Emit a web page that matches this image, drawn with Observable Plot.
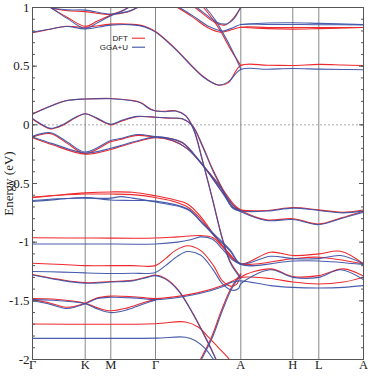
<!DOCTYPE html>
<html><head><meta charset="utf-8">
<script src="https://cdn.jsdelivr.net/npm/d3@7"></script>
<script src="https://cdn.jsdelivr.net/npm/@observablehq/plot@0.6"></script>
<style>
body{margin:0;background:#fff;}
#wrap{position:relative;width:374px;height:380px;}
#legend{position:absolute;left:0;top:0;pointer-events:none;}
svg.bands text{font-family:'Liberation Serif','Times New Roman',serif !important;font-size:13px !important;fill:#222;}
svg.bands g[aria-label="x-axis tick label"] text{font-size:12.5px !important;}
#legend text{font-family:'Liberation Sans',Arial,sans-serif;font-size:8px;fill:#222;}
</style></head><body><div id="wrap"></div>
<script>
// high-symmetry path
const kLabels = ["Γ","K","M","Γ","A","H","L","A"];
const kTicks = [0, 52.7, 78.3, 123, 208.3, 260.3, 286.3, 331];
const yMajor = [-2, -1.5, -1, -0.5, 0, 0.5, 1];
const yMinor = d3.range(-20, 11).map(v => v / 10);
const seriesNames = ["DFT", "GGA+U"];
const seriesColors = ["#ee2a2e", "#3b50a6"];

// DFT bands: [k, E(eV)]
const dftBands = [
  [[12,1.03],[18,1.0],[35,0.972],[52.7,0.965],[78.3,0.94],[95,0.962],[105,1.0],[110,1.03]],
  [[10,1.04],[18,1.0],[35,0.915],[52.7,0.84],[65,0.885],[78.3,0.935],[90,0.975],[100,1.02],[104,1.04]],
  [[0,0.785],[15,0.81],[34,0.84],[52.7,0.832],[78.3,0.858],[100,0.856],[112,0.84],[123,0.795],[141,0.665],[171,0.41],[186,0.338],[196,0.36],[208.3,0.505],[235,0.508],[260.3,0.506],[286.3,0.515],[310,0.51],[331,0.505]],
  [[135,1.05],[145,1.0],[160,0.92],[175,0.83],[188,0.79],[200,0.812],[208.3,0.832],[235,0.83],[260.3,0.83],[286.3,0.83],[331,0.83]],
  [[165,1.05],[171,1.0],[181,0.89],[188,0.8],[198,0.645],[208.3,0.505]],
  [[155,1.05],[170,0.95],[182,0.875],[192,0.85],[200,0.9],[208.3,1.0],[212,1.04]],
  [[208.3,0.832],[235,0.82],[260.3,0.816],[286.3,0.82],[331,0.83]],
  [[0,0.095],[15,0.15],[34,0.207],[52.7,0.22],[78.3,0.225],[98,0.21],[108,0.19],[118,0.135],[123,0.12],[133,0.116],[143,0.12],[153,0.08],[161,-0.03],[170,-0.3],[180,-0.63],[190,-0.97],[198,-1.17],[208.3,-1.3]],
  [[0,0.05],[9,0.0],[18,-0.035],[30,-0.005],[42,0.055],[52.7,0.094],[65,0.05],[78.3,0.0],[90,0.035],[105,0.07],[123,0.065],[138,0.056],[150,0.05],[160,-0.006],[170,-0.176],[180,-0.375],[190,-0.545],[200,-0.7],[208.3,-0.725],[235,-0.73],[260.3,-0.705],[286.3,-0.725],[310,-0.745],[331,-0.725]],
  [[0,-0.105],[18,-0.075],[35,-0.16],[52.7,-0.245],[78.3,-0.145],[88,-0.125],[105,-0.09],[123,-0.105],[133,-0.11],[150,-0.155],[166,-0.3],[176,-0.405],[190,-0.575],[200,-0.68],[208.3,-0.73],[234,-0.81],[260.3,-0.8],[286.3,-0.845],[308,-0.795],[331,-0.735]],
  [[0,-0.11],[20,-0.17],[52.7,-0.25],[78.3,-0.21],[88,-0.185],[108,-0.135],[123,-0.11],[140,-0.135],[155,-0.205],[175,-0.39],[188,-0.525],[201,-0.675],[208.3,-0.725]],
  [[0,-0.622],[25,-0.6],[52.7,-0.58],[78.3,-0.572],[100,-0.575],[123,-0.605],[140,-0.635],[155,-0.675],[168,-0.78],[180,-0.92],[195,-1.08],[208.3,-1.185],[238,-1.086],[260.3,-1.114],[286.3,-1.1],[308,-1.078],[331,-1.185]],
  [[0,-0.615],[25,-0.6],[52.7,-0.59],[78.3,-0.59],[100,-0.595],[123,-0.62],[140,-0.65],[155,-0.7],[168,-0.8],[182,-0.95],[197,-1.1],[208.3,-1.185],[260.3,-1.14],[286.3,-1.128],[331,-1.185]],
  [[0,-0.963],[60,-0.965],[123,-0.965],[145,-0.955],[168,-0.944],[180,-0.96],[190,-1.04],[200,-1.14],[208.3,-1.185]],
  [[0,-1.18],[30,-1.19],[52.7,-1.2],[78.3,-1.2],[100,-1.2],[123,-1.2],[133,-1.14],[143,-1.07],[155,-1.03],[168,-1.07],[181,-1.2],[190,-1.33],[198,-1.375],[204,-1.36],[208.3,-1.3],[238,-1.228],[260.3,-1.293],[286.3,-1.285],[311,-1.228],[331,-1.29]],
  [[0,-1.275],[25,-1.315],[52.7,-1.345],[78.3,-1.335],[100,-1.325],[115,-1.295],[123,-1.28],[133,-1.31],[146,-1.41],[160,-1.6],[170,-1.76],[181,-1.95],[185,-2.03]],
  [[0,-1.49],[18,-1.52],[35,-1.555],[52.7,-1.52],[65,-1.475],[78.3,-1.46],[100,-1.465],[123,-1.48],[133,-1.475],[166,-1.43],[190,-1.37],[200,-1.33],[208.3,-1.3],[238,-1.31],[260.3,-1.34],[286.3,-1.356],[311,-1.34],[331,-1.3]],
  [[0,-1.48],[20,-1.485],[52.7,-1.52],[65,-1.56],[78.3,-1.585],[95,-1.56],[113,-1.51],[123,-1.49]],
  [[166,-2.03],[179,-1.81],[189,-1.58],[199,-1.385],[208.3,-1.27]],
  [[0,-1.698],[60,-1.7],[123,-1.695],[153,-1.68],[166,-1.725],[176,-1.81],[186,-1.9],[196,-1.99],[199,-2.03]]
];

// GGA+U bands: [k, E(eV)]
const gguBands = [
  [[12,1.03],[18,1.0],[35,0.98],[52.7,0.978],[78.3,0.945],[95,0.965],[105,1.0],[110,1.03]],
  [[10,1.04],[18,1.0],[35,0.905],[52.7,0.822],[65,0.87],[78.3,0.93],[90,0.97],[100,1.02],[104,1.04]],
  [[0,0.79],[15,0.812],[34,0.838],[52.7,0.818],[78.3,0.85],[100,0.852],[112,0.835],[123,0.79],[141,0.66],[171,0.405],[186,0.34],[196,0.368],[208.3,0.472],[235,0.474],[260.3,0.48],[286.3,0.475],[310,0.472],[331,0.47]],
  [[137,1.05],[147,1.0],[162,0.92],[177,0.835],[190,0.8],[201,0.83],[208.3,0.855],[235,0.855],[260.3,0.855],[286.3,0.853],[331,0.852]],
  [[167,1.05],[173,1.0],[183,0.89],[190,0.79],[200,0.63],[208.3,0.475]],
  [[157,1.05],[172,0.95],[184,0.875],[194,0.86],[202,0.91],[208.3,1.0],[212,1.04]],
  [[208.3,0.855],[235,0.868],[260.3,0.87],[286.3,0.865],[331,0.855]],
  [[0,0.09],[15,0.148],[34,0.205],[52.7,0.22],[78.3,0.222],[98,0.207],[108,0.188],[118,0.13],[123,0.118],[133,0.112],[143,0.118],[153,0.078],[161,-0.04],[170,-0.31],[180,-0.64],[190,-0.98],[198,-1.18],[208.3,-1.31]],
  [[0,0.055],[9,0.005],[18,-0.03],[30,0.0],[42,0.06],[52.7,0.095],[65,0.055],[78.3,0.005],[90,0.04],[105,0.072],[123,0.065],[138,0.058],[150,0.052],[160,-0.01],[170,-0.185],[180,-0.385],[190,-0.555],[200,-0.71],[208.3,-0.735],[235,-0.735],[260.3,-0.71],[286.3,-0.73],[310,-0.75],[331,-0.735]],
  [[0,-0.098],[18,-0.068],[35,-0.148],[52.7,-0.232],[78.3,-0.134],[88,-0.117],[105,-0.083],[123,-0.1],[133,-0.108],[150,-0.15],[166,-0.295],[176,-0.41],[190,-0.58],[200,-0.7],[208.3,-0.74],[234,-0.815],[260.3,-0.807],[286.3,-0.85],[308,-0.8],[331,-0.745]],
  [[0,-0.103],[20,-0.16],[52.7,-0.24],[78.3,-0.2],[88,-0.177],[108,-0.13],[123,-0.105],[140,-0.132],[155,-0.205],[175,-0.395],[188,-0.535],[201,-0.69],[208.3,-0.735]],
  [[0,-0.654],[25,-0.635],[52.7,-0.62],[78.3,-0.64],[100,-0.645],[123,-0.65],[155,-0.716],[171,-0.845],[185,-0.96],[198,-1.07],[208.3,-1.185],[238,-1.12],[260.3,-1.14],[286.3,-1.14],[308,-1.114],[331,-1.185]],
  [[0,-0.645],[25,-0.63],[52.7,-0.625],[78.3,-0.625],[88,-0.612],[100,-0.625],[123,-0.658],[155,-0.722],[171,-0.85],[185,-0.972],[198,-1.08],[208.3,-1.19],[260.3,-1.16],[286.3,-1.16],[331,-1.19]],
  [[0,-1.015],[60,-1.015],[123,-1.015],[145,-1.0],[158,-0.98],[168,-0.955],[180,-0.975],[190,-1.06],[200,-1.15],[208.3,-1.19]],
  [[0,-1.25],[30,-1.255],[52.7,-1.262],[78.3,-1.267],[100,-1.265],[123,-1.258],[133,-1.2],[145,-1.12],[155,-1.08],[168,-1.11],[181,-1.24],[190,-1.355],[200,-1.41],[206,-1.395],[208.3,-1.355],[238,-1.235],[260.3,-1.3],[286.3,-1.3],[308,-1.235],[331,-1.32]],
  [[0,-1.28],[25,-1.32],[52.7,-1.35],[78.3,-1.34],[100,-1.33],[115,-1.3],[123,-1.285],[133,-1.315],[146,-1.415],[160,-1.605],[170,-1.765],[181,-1.955],[185,-2.03]],
  [[0,-1.5],[18,-1.53],[35,-1.565],[52.7,-1.525],[65,-1.48],[78.3,-1.47],[100,-1.475],[123,-1.49],[133,-1.485],[166,-1.44],[190,-1.38],[200,-1.34],[208.3,-1.33],[238,-1.37],[260.3,-1.385],[286.3,-1.39],[311,-1.385],[331,-1.37]],
  [[0,-1.49],[20,-1.495],[52.7,-1.525],[65,-1.57],[78.3,-1.6],[95,-1.575],[113,-1.52],[123,-1.495]],
  [[167,-2.03],[180,-1.81],[190,-1.58],[200,-1.385],[208.3,-1.28]],
  [[0,-1.82],[60,-1.82],[123,-1.818],[153,-1.81],[163,-1.84],[173,-1.91],[181,-2.0],[184,-2.03]]
];

function toRows(bands, name) {
  const out = [];
  bands.forEach((b, i) => b.forEach(([k, E]) => out.push({series: name, band: name + i, k, E})));
  return out;
}
const dftRows = toRows(dftBands, seriesNames[0]);
const gguRows = toRows(gguBands, seriesNames[1]);
const labelMap = new Map(kTicks.map((k, i) => [k, kLabels[i]]));

const chart = Plot.plot({
  width: 374, height: 380,
  marginTop: 7, marginBottom: 21, marginLeft: 32, marginRight: 11,
  x: {domain: [0, 331]},
  y: {domain: [-2, 1]},
  marks: [
    Plot.ruleY([0], {stroke: "#aaa", strokeDasharray: "2,2", strokeWidth: 1}),
    Plot.ruleX(kTicks.slice(1, -1), {stroke: "#888", strokeWidth: 1}),
    Plot.line(dftRows, {x: "k", y: "E", z: "band", stroke: seriesColors[0], strokeWidth: 1.1, curve: "catmull-rom", clip: true}),
    Plot.line(gguRows, {x: "k", y: "E", z: "band", stroke: seriesColors[1], strokeWidth: 1.1, strokeOpacity: 0.92, curve: "catmull-rom", clip: true}),
    Plot.axisX({ticks: kTicks, tickFormat: d => labelMap.get(d), tickSize: 0, tickPadding: 1, label: null}),
    Plot.axisY({ticks: yMajor, tickFormat: d => String(d), tickSize: 0, tickPadding: 3, label: "Energy (eV)", labelAnchor: "center", labelOffset: 29, labelArrow: "none"}),
    Plot.axisY({ticks: yMinor, tickFormat: () => "", tickSize: -3, label: null, stroke: "#555"}),
    Plot.axisY({ticks: yMinor, anchor: "right", tickFormat: () => "", tickSize: -3, label: null, stroke: "#555"}),
    Plot.axisY({ticks: yMajor, tickFormat: () => "", tickSize: -5, label: null, stroke: "#555"}),
    Plot.axisY({ticks: yMajor, anchor: "right", tickFormat: () => "", tickSize: -5, label: null, stroke: "#555"}),
    Plot.frame({stroke: "#555", strokeWidth: 1})
  ]
});
chart.classList.add("bands");
const wrap = document.getElementById("wrap");
wrap.appendChild(chart);

// legend overlay
const leg = d3.select(wrap).append("svg").attr("id", "legend").attr("width", 374).attr("height", 380);
seriesNames.forEach((name, i) => {
  const g = leg.append("g").attr("transform", `translate(0,${40.5 + i * 9})`);
  g.append("text").attr("x", 128).attr("y", 0).attr("text-anchor", "end").text(name);
  g.append("line").attr("x1", 132).attr("x2", 145).attr("y1", -2.3).attr("y2", -2.3)
    .attr("stroke", seriesColors[i]).attr("stroke-width", 1.1);
});
</script></body></html>
